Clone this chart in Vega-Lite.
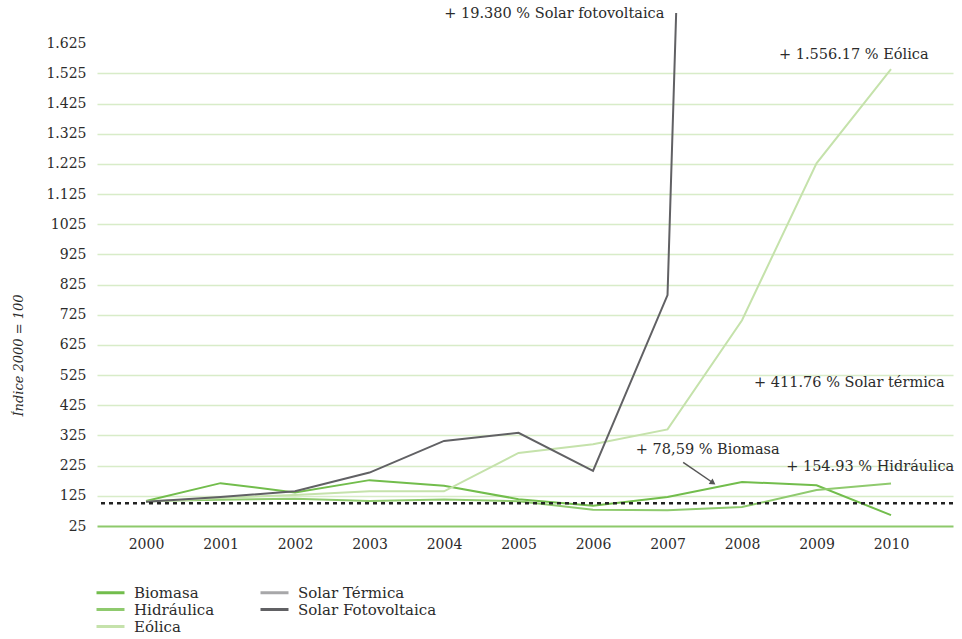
{
  "$schema": "https://vega.github.io/schema/vega-lite/v6.json",
  "width": 856,
  "height": 513,
  "autosize": {"type": "none"},
  "padding": {"left": 97, "top": 13, "right": 9, "bottom": 113},
  "background": "white",
  "config": {
    "view": {"stroke": null},
    "font": "DejaVu Serif, Liberation Serif, serif",
    "text": {"font": "DejaVu Serif, Liberation Serif, serif"}
  },
  "datasets": {
    "series": [
      {"year": 2000, "serie": "Biomasa", "value": 108},
      {"year": 2001, "serie": "Biomasa", "value": 167},
      {"year": 2002, "serie": "Biomasa", "value": 136},
      {"year": 2003, "serie": "Biomasa", "value": 177},
      {"year": 2004, "serie": "Biomasa", "value": 158},
      {"year": 2005, "serie": "Biomasa", "value": 114},
      {"year": 2006, "serie": "Biomasa", "value": 92},
      {"year": 2007, "serie": "Biomasa", "value": 121},
      {"year": 2008, "serie": "Biomasa", "value": 171},
      {"year": 2009, "serie": "Biomasa", "value": 160},
      {"year": 2010, "serie": "Biomasa", "value": 61},
      {"year": 2000, "serie": "Hidráulica", "value": 108},
      {"year": 2001, "serie": "Hidráulica", "value": 112},
      {"year": 2002, "serie": "Hidráulica", "value": 115},
      {"year": 2003, "serie": "Hidráulica", "value": 108},
      {"year": 2004, "serie": "Hidráulica", "value": 113},
      {"year": 2005, "serie": "Hidráulica", "value": 107},
      {"year": 2006, "serie": "Hidráulica", "value": 79},
      {"year": 2007, "serie": "Hidráulica", "value": 77},
      {"year": 2008, "serie": "Hidráulica", "value": 88},
      {"year": 2009, "serie": "Hidráulica", "value": 144},
      {"year": 2010, "serie": "Hidráulica", "value": 166},
      {"year": 2000, "serie": "Eólica", "value": 105},
      {"year": 2001, "serie": "Eólica", "value": 118},
      {"year": 2002, "serie": "Eólica", "value": 128},
      {"year": 2003, "serie": "Eólica", "value": 140},
      {"year": 2004, "serie": "Eólica", "value": 140},
      {"year": 2005, "serie": "Eólica", "value": 267},
      {"year": 2006, "serie": "Eólica", "value": 296},
      {"year": 2007, "serie": "Eólica", "value": 345},
      {"year": 2008, "serie": "Eólica", "value": 707},
      {"year": 2009, "serie": "Eólica", "value": 1227},
      {"year": 2010, "serie": "Eólica", "value": 1539},
      {"year": 2000, "serie": "Solar Fotovoltaica", "value": 105},
      {"year": 2001, "serie": "Solar Fotovoltaica", "value": 121},
      {"year": 2002, "serie": "Solar Fotovoltaica", "value": 140},
      {"year": 2003, "serie": "Solar Fotovoltaica", "value": 202},
      {"year": 2004, "serie": "Solar Fotovoltaica", "value": 307},
      {"year": 2005, "serie": "Solar Fotovoltaica", "value": 334},
      {"year": 2006, "serie": "Solar Fotovoltaica", "value": 208},
      {"year": 2007, "serie": "Solar Fotovoltaica", "value": 790},
      {"year": 2008, "serie": "Solar Fotovoltaica", "value": 8850},
      {"year": 2009, "serie": "Solar Fotovoltaica", "value": 18000},
      {"year": 2010, "serie": "Solar Fotovoltaica", "value": 19480}
    ],
    "notes": [
      {"year": 2005.48, "value": 1721, "label": "+ 19.380 % Solar fotovoltaica"},
      {"year": 2009.5, "value": 1585, "label": "+ 1.556.17 % Eólica"},
      {"year": 2009.44, "value": 498, "label": "+ 411.76 % Solar térmica"},
      {"year": 2007.54, "value": 276, "label": "+ 78,59 % Biomasa"},
      {"year": 2009.72, "value": 220, "label": "+ 154.93 % Hidráulica"}
    ],
    "arrow": [
      {"x1": 2007.21, "y1": 236, "x2": 2007.6, "y2": 170}
    ],
    "ref": [{"value": 100}]
  },
  "layer": [
    {
      "data": {"name": "series"},
      "mark": {"type": "line", "clip": true, "strokeWidth": 2},
      "encoding": {
        "x": {
          "field": "year", "type": "quantitative",
          "scale": {"domain": [1999.342, 2010.832], "nice": false, "zero": false},
          "axis": {
            "values": [2000, 2001, 2002, 2003, 2004, 2005, 2006, 2007, 2008, 2009, 2010],
            "tickCount": 30,
            "format": "d", "title": null, "grid": false, "ticks": false,
            "domainColor": "#8dc96b", "domainWidth": 2,
            "labelFont": "DejaVu Serif, Liberation Serif, serif", "labelFontSize": 14, "labelColor": "#2b2b2b",
            "labelPadding": 11, "labelOverlap": false
          }
        },
        "y": {
          "field": "value", "type": "quantitative",
          "scale": {"domain": [25, 1725], "nice": false, "zero": false},
          "axis": {
            "values": [25, 125, 225, 325, 425, 525, 625, 725, 825, 925, 1025, 1125, 1225, 1325, 1425, 1525, 1625],
            "tickCount": 40,
            "labelExpr": "datum.value > 1025 ? '1.' + substring(toString(datum.value), 1) : toString(datum.value)",
            "labelOverlap": false,
            "domain": false, "ticks": false,
            "gridColor": {"condition": {"test": "datum.value >= 1625 || datum.value <= 25", "value": "transparent"}, "value": "#d8ecc8"},
            "gridWidth": 1.5,
            "labelFont": "DejaVu Serif, Liberation Serif, serif", "labelFontSize": 14, "labelColor": "#2b2b2b",
            "labelPadding": 11,
            "title": "Índice 2000 = 100",
            "titleFont": "DejaVu Serif, Liberation Serif, serif", "titleFontStyle": "italic", "titleFontWeight": "normal",
            "titleFontSize": 13, "titleColor": "#2b2b2b",
            "titleAngle": -90, "titleX": -79, "titleY": 342, "titleAlign": "center", "titleBaseline": "middle"
          }
        },
        "color": {
          "field": "serie", "type": "nominal",
          "scale": {
            "domain": ["Biomasa", "Hidráulica", "Eólica", "Solar Térmica", "Solar Fotovoltaica"],
            "range": ["#72bd4c", "#8fca6e", "#c5e2ab", "#a7a7a9", "#616164"]
          },
          "legend": {
            "title": null, "orient": "none", "legendX": 5, "legendY": 571,
            "columns": 2, "columnPadding": 39, "rowPadding": 0,
            "symbolType": "M-2,0H2", "symbolSize": 196, "symbolStrokeWidth": 3,
            "labelFont": "DejaVu Serif, Liberation Serif, serif", "labelFontSize": 15, "labelColor": "#2b2b2b",
            "labelOffset": 15
          }
        }
      }
    },
    {
      "data": {"name": "ref"},
      "mark": {"type": "rule", "strokeDash": [4, 4], "strokeWidth": 2.5, "color": "#222222"},
      "encoding": {"y": {"field": "value", "type": "quantitative"}}
    },
    {
      "data": {"name": "notes"},
      "mark": {"type": "text", "font": "DejaVu Serif, Liberation Serif, serif", "fontSize": 14.5, "color": "#2b2b2b", "baseline": "middle", "align": "center"},
      "encoding": {
        "x": {"field": "year", "type": "quantitative"},
        "y": {"field": "value", "type": "quantitative"},
        "text": {"field": "label"}
      }
    },
    {
      "data": {"name": "arrow"},
      "mark": {"type": "rule", "color": "#555555", "strokeWidth": 1.5},
      "encoding": {
        "x": {"field": "x1", "type": "quantitative"},
        "y": {"field": "y1", "type": "quantitative"},
        "x2": {"field": "x2"},
        "y2": {"field": "y2"}
      }
    },
    {
      "data": {"name": "arrow"},
      "mark": {"type": "point", "shape": "triangle", "filled": true, "color": "#555555", "size": 45, "angle": 125, "opacity": 1},
      "encoding": {
        "x": {"field": "x2", "type": "quantitative"},
        "y": {"field": "y2", "type": "quantitative"}
      }
    }
  ]
}
